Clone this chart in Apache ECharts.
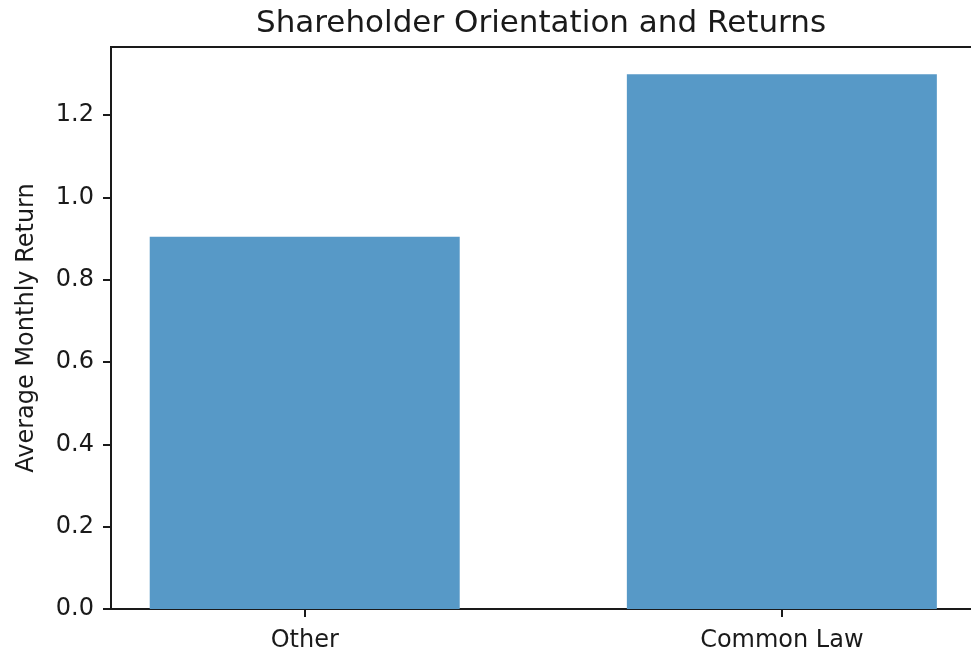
<!DOCTYPE html>
<html>
<head>
<meta charset="utf-8">
<script src="https://cdn.jsdelivr.net/npm/echarts@6/dist/echarts.min.js"></script>
<style>
html, body { margin: 0; padding: 0; background: #fff; overflow: hidden; }
#container { width: 985px; height: 653px; }
</style>
</head>
<body>
<div id="container"></div>
<script>
var categories = ['Other', 'Common Law'];
var returns = [0.904, 1.299];
var yTicks = [0, 0.2, 0.4, 0.6, 0.8, 1.0, 1.2];

var dom = document.getElementById('container');
var myChart = echarts.init(dom);
var font = 'DejaVu Sans';
var ink = '#1a1a1a';

var barData = returns.map(function (v, i) { return [i, v]; });

var option = {
    animation: false,
    backgroundColor: '#fff',
    title: {
        text: 'Shareholder Orientation and Returns',
        left: 536,
        top: 3,
        textAlign: 'center',
        textStyle: { fontFamily: font, fontSize: 31, fontWeight: 'normal', color: ink }
    },
    grid: {
        left: 111, right: 8, top: 47, bottom: 44,
        show: true, borderColor: ink, borderWidth: 2, backgroundColor: 'transparent'
    },
    xAxis: {
        type: 'value',
        min: -0.406,
        max: 1.409,
        splitLine: { show: false },
        axisLine: { show: true, onZero: false, lineStyle: { color: ink, width: 2 } },
        axisTick: { show: true, customValues: [0, 1], length: 8, lineStyle: { color: ink, width: 2 } },
        axisLabel: {
            customValues: [0, 1],
            margin: 20,
            fontFamily: font, fontSize: 24, color: ink,
            formatter: function (v) { return categories[Math.round(v)]; }
        }
    },
    yAxis: {
        type: 'value',
        min: 0,
        max: 1.365,
        name: 'Average Monthly Return',
        nameLocation: 'middle',
        nameGap: 72,
        nameTextStyle: { fontFamily: font, fontSize: 24, color: ink },
        splitLine: { show: false },
        axisLine: { show: true, onZero: false, lineStyle: { color: ink, width: 2 } },
        axisTick: { show: true, customValues: yTicks, length: 8, lineStyle: { color: ink, width: 2 } },
        axisLabel: {
            customValues: yTicks,
            margin: 17,
            fontFamily: font, fontSize: 24, color: ink,
            formatter: function (v) { return v.toFixed(1); }
        }
    },
    series: [{
        type: 'bar',
        data: barData,
        barWidth: 310,
        itemStyle: { color: '#5799c7' }
    }]
};

myChart.setOption(option);
</script>
</body>
</html>
